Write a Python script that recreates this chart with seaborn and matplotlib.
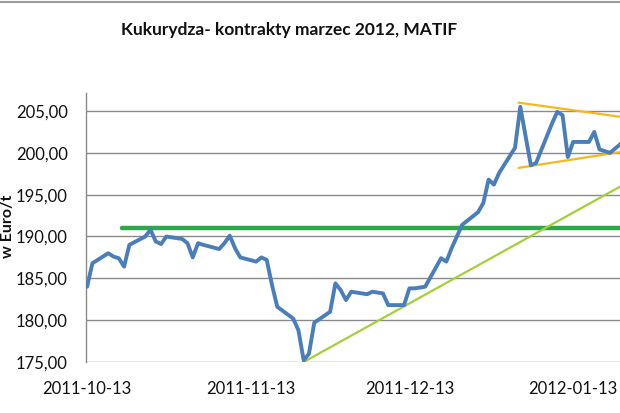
import matplotlib
matplotlib.use("Agg")
import matplotlib.pyplot as plt
from matplotlib.lines import Line2D
from matplotlib.ticker import FuncFormatter
import pandas as pd
import seaborn as sns

# Daily closing prices of the March 2012 corn contract (EUR/t)
dates = [
    "2011-10-13", "2011-10-14", "2011-10-17", "2011-10-18", "2011-10-19",
    "2011-10-20", "2011-10-21", "2011-10-24", "2011-10-25", "2011-10-26",
    "2011-10-27", "2011-10-28", "2011-10-31", "2011-11-01", "2011-11-02",
    "2011-11-03", "2011-11-04", "2011-11-07", "2011-11-08", "2011-11-09",
    "2011-11-10", "2011-11-11", "2011-11-14", "2011-11-15", "2011-11-16",
    "2011-11-17", "2011-11-18", "2011-11-21", "2011-11-22", "2011-11-23",
    "2011-11-24", "2011-11-25", "2011-11-28", "2011-11-29", "2011-11-30",
    "2011-12-01", "2011-12-02", "2011-12-05", "2011-12-06", "2011-12-07",
    "2011-12-08", "2011-12-09", "2011-12-12", "2011-12-13", "2011-12-14",
    "2011-12-15", "2011-12-16", "2011-12-19", "2011-12-20", "2011-12-21",
    "2011-12-22", "2011-12-23", "2011-12-26", "2011-12-27", "2011-12-28",
    "2011-12-29", "2011-12-30", "2012-01-02", "2012-01-03", "2012-01-04",
    "2012-01-05", "2012-01-06", "2012-01-09", "2012-01-10", "2012-01-11",
    "2012-01-12", "2012-01-13", "2012-01-16", "2012-01-17", "2012-01-18",
    "2012-01-19", "2012-01-20", "2012-01-23",
]
prices = [
    184.0, 186.8, 188.0, 187.6, 187.4,
    186.4, 189.0, 190.0, 190.8, 189.4,
    189.1, 190.0, 189.7, 189.2, 187.5,
    189.2, 189.0, 188.5, 189.2, 190.1,
    188.6, 187.5, 187.0, 187.5, 187.2,
    184.2, 181.6, 180.2, 178.8, 175.2,
    176.0, 179.7, 181.0, 184.4, 183.6,
    182.4, 183.4, 183.1, 183.4, 183.3,
    183.2, 181.8, 181.8, 183.8, 183.8,
    183.9, 184.0, 187.4, 187.0, 188.6,
    190.0, 191.4, 192.9, 194.0, 196.8,
    196.2, 197.6, 200.6, 205.5, 202.0,
    198.5, 198.8, 203.5, 204.9, 204.5,
    199.5, 201.3, 201.3, 202.5, 200.4,
    200.2, 200.0, 201.6,
]

# resistance level (green), trend line (light green), triangle (orange)
support_dates = ["2011-10-19 14:00", "2012-01-25 00:00"]
support_values = [191.0, 191.0]
trend_dates = ["2011-11-23 00:00", "2012-01-22 00:00"]
trend_values = [175.0, 196.0]
upper_dates = ["2012-01-02 16:00", "2012-01-22 00:00"]
upper_values = [206.0, 204.3]
lower_dates = ["2012-01-02 16:00", "2012-01-22 00:00"]
lower_values = [198.2, 200.1]

tick_dates = ["2011-10-13", "2011-11-13", "2011-12-13", "2012-01-13"]
y_ticks = [175, 180, 185, 190, 195, 200, 205]

sns.set_style("white")
plt.rcParams["font.family"] = ["Lato", "DejaVu Sans"]

df = pd.DataFrame({"date": pd.to_datetime(dates), "price": prices})

fig = plt.figure(figsize=(6.2, 4.13), dpi=100)
ax = fig.add_axes([86 / 620, (413 - 362) / 413, 1 - 86 / 620, (362 - 93) / 413])

ax.set_xlim(pd.Timestamp("2011-10-12 19:00"), pd.Timestamp("2012-01-21 21:00"))
ax.set_ylim(175, 207.15)

for v in y_ticks:
    ax.axhline(v, color="#8a8a8a", lw=1.0, zorder=1)

sns.lineplot(x=pd.to_datetime(support_dates), y=support_values, ax=ax,
             color="#2aa84a", lw=3.2, zorder=3)
sns.lineplot(x=pd.to_datetime(trend_dates), y=trend_values, ax=ax,
             color="#a4d03a", lw=1.6, zorder=3)
sns.lineplot(x=pd.to_datetime(upper_dates), y=upper_values, ax=ax,
             color="#f7b81c", lw=1.6, zorder=3)
sns.lineplot(x=pd.to_datetime(lower_dates), y=lower_values, ax=ax,
             color="#f7b81c", lw=1.6, zorder=3)
sns.lineplot(data=df, x="date", y="price", ax=ax,
             color="#4a7ebb", lw=2.8, zorder=4)

ax.set_xticks(pd.to_datetime(tick_dates))
ax.set_xticklabels(tick_dates)
ax.set_yticks(y_ticks)
ax.yaxis.set_major_formatter(FuncFormatter(lambda v, p: f"{v:.2f}".replace(".", ",")))
ax.tick_params(axis="both", length=0, labelsize=12, colors="#111111")
ax.tick_params(axis="y", pad=13)
ax.tick_params(axis="x", pad=14)
ax.set_xlabel("")
ax.set_ylabel("")

for side in ["top", "right", "bottom"]:
    ax.spines[side].set_visible(False)
ax.spines["left"].set_color("#8a8a8a")
ax.spines["left"].set_linewidth(1.0)

fig.text(289 / 620, 1 - 30 / 413, "Kukurydza- kontrakty marzec 2012, MATIF",
         ha="center", va="center", fontsize=12.5, fontweight="bold", color="#111111")
fig.text(8 / 620, 1 - 226 / 413, "w Euro/t", rotation=90, ha="center", va="center",
         fontsize=11.5, fontweight="bold", color="#111111")

# thin grey frame edge along the top of the image
fig.add_artist(Line2D([0, 1], [1 - 1.5 / 413, 1 - 1.5 / 413],
                      transform=fig.transFigure, color="#9a9a9a", lw=1.5))

fig.savefig("out.png", dpi=100)
